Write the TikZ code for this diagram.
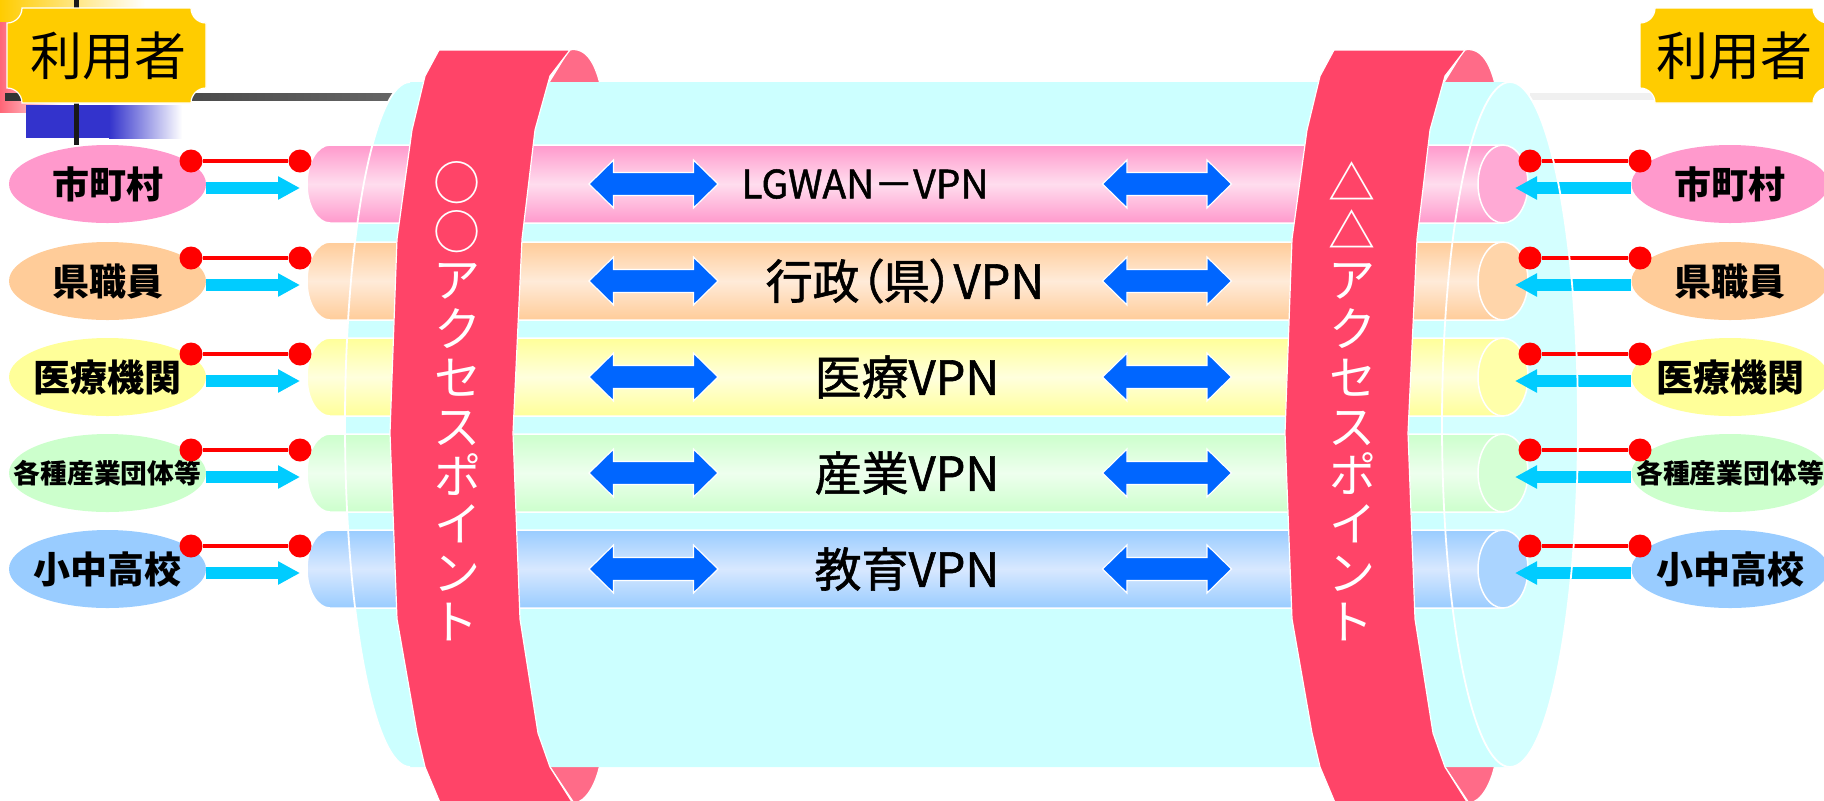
\documentclass[tikz,border=0pt]{standalone}
\usepackage{fontspec}
\setmainfont{Noto Sans CJK JP}[RawFeature=+palt]
\newfontfamily\vpnfont{Noto Sans CJK JP}[RawFeature=+palt, FakeBold=1.2]
\usepackage{graphicx}
\usetikzlibrary{calc,shapes.geometric,arrows.meta}

\definecolor{tubecyan}{HTML}{CCFFFF}
\definecolor{tubecap}{HTML}{D4FFFF}
\definecolor{apred}{HTML}{FF4468}
\definecolor{apback}{HTML}{FF6B88}
\definecolor{dotred}{HTML}{FF0000}
\definecolor{arrowcyan}{HTML}{00CCFF}
\definecolor{arrowblue}{HTML}{0066FF}
\definecolor{plaqueyellow}{HTML}{FFCC00}
\definecolor{decored}{HTML}{FF6677}
\definecolor{decoblue}{HTML}{3333CC}
\definecolor{usrpink}{HTML}{FF99CC}
\definecolor{pinkmid}{HTML}{FFDDEE}
\definecolor{pinkcap}{HTML}{FFAAD5}
\definecolor{usrorange}{HTML}{FFCC99}
\definecolor{orangemid}{HTML}{FFEBD9}
\definecolor{orangecap}{HTML}{FFD5AA}
\definecolor{usryellow}{HTML}{FFFF99}
\definecolor{yellowmid}{HTML}{FFFFDD}
\definecolor{yellowcap}{HTML}{FFFFAA}
\definecolor{usrgreen}{HTML}{CCFFCC}
\definecolor{greenmid}{HTML}{EEFFEE}
\definecolor{greencap}{HTML}{D5FFD5}
\definecolor{usrblue}{HTML}{99CCFF}
\definecolor{bluemid}{HTML}{D8E8FF}
\definecolor{bluecap}{HTML}{AAD4FF}

\tikzset{
	usrlabel/.style={ellipse, minimum width=98.5pt, minimum height=39pt, inner sep=0pt, font=\fontsize{18.5pt}{20pt}\bfseries\selectfont},
	usrtitle/.style={inner sep=0pt, font=\fontsize{26pt}{28pt}\selectfont},
	reddot/.style={circle, fill=dotred, minimum size=11.5pt, inner sep=0pt},
	redline/.style={dotred, line width=2pt},
	usrarrow/.style={arrowcyan, line width=6.25pt, -{Triangle[length=11pt, width=11pt]}},
	vpnarrow/.style={fill=arrowblue, draw=white, line width=0.6pt},
	vpnlabel/.style={inner sep=0pt, font=\vpnfont\fontsize{23.5pt}{25pt}\selectfont},
	bandtext/.style={white, align=center, inner sep=0pt, font=\fontsize{23.5pt}{24.4pt}\selectfont},
	apbody/.style={fill=apred, draw=white, line width=0.6pt},
	aptab/.style={fill=apback, draw=white, line width=0.6pt},
	plaquebox/.style={fill=plaqueyellow, draw=white, line width=0.6pt},
}

\def\plaque(#1,#2,#3,#4){\draw[plaquebox] (#1+15,#2) -- (#3-15,#2) arc[start angle=180, end angle=90, radius=15] -- (#3,#4-15) arc[start angle=270, end angle=180, radius=15] -- (#1+15,#4) arc[start angle=0, end angle=-90, radius=15] -- (#1,#2+15) arc[start angle=90, end angle=0, radius=15] -- cycle;}
\def\vpnpipe#1#2#3#4{\draw[white, line width=0.75pt, top color=#2, bottom color=#2, middle color=#3] (1503,#1-39) -- (330,#1-39) arc[start angle=270, end angle=90, x radius=23, y radius=39] -- (1503,#1+39) -- cycle;
	\draw[white, line width=0.75pt, fill=#4] (1503,#1) ellipse[x radius=25, y radius=39];}
\def\dblarrow(#1){\draw[vpnarrow, shift={(#1)}] (-64.5,0) -- (-40,-24) -- (-40,-11.5) -- (40,-11.5) -- (40,-24) -- (64.5,0) -- (40,24) -- (40,11.5) -- (-40,11.5) -- (-40,24) -- cycle;}

\begin{document}
\begin{tikzpicture}[x=0.5pt, y=-0.5pt]
	%%%%% START %%%%%
	\useasboundingbox (0,0) rectangle (1824,800);
	
	\fill[left color=plaqueyellow, right color=white] (0,0) rectangle (145,24);
	\fill[left color=decored, right color=white] (0,22) rectangle (62,112);
	\fill[decoblue] (26,105) rectangle (110,138);
	\fill[left color=decoblue, right color=white] (109,105) rectangle (182,138);
	\fill[left color=black!80, right color=black!60] (5,93) rectangle (400,100);
	\fill[black!6] (1530,93) rectangle (1655,100);
	\draw[black!90, line width=2.5pt] (76,0) -- (76,145);
	\plaque(7,8,206,103)
	\plaque(1640,8,1828,103)
	\node[usrtitle] (luser) at (108,56) {利用者};
	\node[usrtitle] (ruser) at (1734,56) {利用者};
	
	\draw[aptab] (548,84) -- (569,50) .. controls (588,46) and (596,68) .. (600,84) -- cycle;
	\draw[aptab] (548,764) -- (600,764) .. controls (596,784) and (586,802) .. (574,803) -- cycle;
	\draw[aptab, shift={(895,0)}] (548,84) -- (569,50) .. controls (588,46) and (596,68) .. (600,84) -- cycle;
	\draw[aptab, shift={(895,0)}] (548,764) -- (600,764) .. controls (596,784) and (586,802) .. (574,803) -- cycle;
	
	\fill[tubecyan] (410,82) -- (1510,82) -- (1510,767) -- (410,767) arc[start angle=90, end angle=270, x radius=65, y radius=342.5] -- cycle;
	\fill[tubecap] (1510,424.5) ellipse[x radius=68, y radius=342.5];
	
	\vpnpipe{184}{usrpink}{pinkmid}{pinkcap}
	\vpnpipe{281}{usrorange}{orangemid}{orangecap}
	\vpnpipe{377}{usryellow}{yellowmid}{yellowcap}
	\vpnpipe{473}{usrgreen}{greenmid}{greencap}
	\vpnpipe{569}{usrblue}{bluemid}{bluecap}
	\draw[white, line width=0.9pt] (410,82) arc[start angle=270, end angle=90, x radius=65, y radius=342.5];
	
	\draw[apbody] (439,50) -- (425,76) -- (412,130) -- (397,239) -- (390,433) -- (397,619) -- (417,733) -- (425,767) -- (441,805) -- (574,805) -- (550,767) -- (538,733) -- (520,619) -- (513,433) -- (522,239) -- (535,130) -- (550,76) -- (570,50) -- cycle;
	\draw[apbody, shift={(895,0)}] (439,50) -- (425,76) -- (412,130) -- (397,239) -- (390,433) -- (397,619) -- (417,733) -- (425,767) -- (441,805) -- (574,805) -- (550,767) -- (538,733) -- (520,619) -- (513,433) -- (522,239) -- (535,130) -- (550,76) -- (570,50) -- cycle;
	\node[bandtext] (lap) at (457,401) {○\\○\\ア\\ク\\セ\\ス\\ポ\\イ\\ン\\ト};
	\node[bandtext] (rap) at (1352,401) {△\\△\\ア\\ク\\セ\\ス\\ポ\\イ\\ン\\ト};
	
	\dblarrow(653.5,184) \dblarrow(1167,184)
	\dblarrow(653.5,281) \dblarrow(1167,281)
	\dblarrow(653.5,377) \dblarrow(1167,377)
	\dblarrow(653.5,473) \dblarrow(1167,473)
	\dblarrow(653.5,569) \dblarrow(1167,569)
	\node[vpnlabel, font=\vpnfont\fontsize{19.5pt}{21pt}\selectfont] (vlgwan) at (865,184) {LGWAN－VPN};
	\node[vpnlabel] (vgyosei) at (905,281) {行政（県）VPN};
	\node[vpnlabel] (viryo) at (907,377) {医療VPN};
	\node[vpnlabel] (vsangyo) at (907,473) {産業VPN};
	\node[vpnlabel] (vkyoiku) at (907,569) {教育VPN};
	
	\node[usrlabel, fill=usrpink] (lmura) at (107.5,184) {\makebox[0pt]{市町村}};
	\node[usrlabel, fill=usrpink] (rmura) at (1730,184) {\makebox[0pt]{市町村}};
	\node[usrlabel, fill=usrorange] (lken) at (107.5,281) {\makebox[0pt]{県職員}};
	\node[usrlabel, fill=usrorange] (rken) at (1730,281) {\makebox[0pt]{県職員}};
	\node[usrlabel, fill=usryellow] (liryo) at (107.5,377) {\makebox[0pt]{医療機関}};
	\node[usrlabel, fill=usryellow] (riryo) at (1730,377) {\makebox[0pt]{医療機関}};
	\node[usrlabel, fill=usrgreen, font=\fontsize{13.4pt}{15pt}\bfseries\selectfont] (lsangyo) at (107.5,473) {\makebox[0pt]{各種産業団体等}};
	\node[usrlabel, fill=usrgreen, font=\fontsize{13.4pt}{15pt}\bfseries\selectfont] (rsangyo) at (1730,473) {\makebox[0pt]{各種産業団体等}};
	\node[usrlabel, fill=usrblue] (lgakko) at (107.5,569) {\makebox[0pt]{小中高校}};
	\node[usrlabel, fill=usrblue] (rgakko) at (1730,569) {\makebox[0pt]{小中高校}};
	
	\node[reddot] (lmuraA) at (191,161) {};
	\node[reddot] (lmuraB) at (300,161) {};
	\node[reddot] (rmuraB) at (1530,161) {};
	\node[reddot] (rmuraA) at (1640,161) {};
	\node[reddot] (lkenA) at (191,258) {};
	\node[reddot] (lkenB) at (300,258) {};
	\node[reddot] (rkenB) at (1530,258) {};
	\node[reddot] (rkenA) at (1640,258) {};
	\node[reddot] (liryoA) at (191,354) {};
	\node[reddot] (liryoB) at (300,354) {};
	\node[reddot] (riryoB) at (1530,354) {};
	\node[reddot] (riryoA) at (1640,354) {};
	\node[reddot] (lsangyoA) at (191,450) {};
	\node[reddot] (lsangyoB) at (300,450) {};
	\node[reddot] (rsangyoB) at (1530,450) {};
	\node[reddot] (rsangyoA) at (1640,450) {};
	\node[reddot] (lgakkoA) at (191,546) {};
	\node[reddot] (lgakkoB) at (300,546) {};
	\node[reddot] (rgakkoB) at (1530,546) {};
	\node[reddot] (rgakkoA) at (1640,546) {};
	\draw[redline] (lmuraA) -- (lmuraB);
	\draw[redline] (rmuraA) -- (rmuraB);
	\draw[redline] (lkenA) -- (lkenB);
	\draw[redline] (rkenA) -- (rkenB);
	\draw[redline] (liryoA) -- (liryoB);
	\draw[redline] (riryoA) -- (riryoB);
	\draw[redline] (lsangyoA) -- (lsangyoB);
	\draw[redline] (rsangyoA) -- (rsangyoB);
	\draw[redline] (lgakkoA) -- (lgakkoB);
	\draw[redline] (rgakkoA) -- (rgakkoB);
	
	\coordinate (lmuraP) at (300,188);
	\coordinate (rmuraP) at (1515,188);
	\coordinate (lkenP) at (300,285);
	\coordinate (rkenP) at (1515,285);
	\coordinate (liryoP) at (300,381);
	\coordinate (riryoP) at (1515,381);
	\coordinate (lsangyoP) at (300,477);
	\coordinate (rsangyoP) at (1515,477);
	\coordinate (lgakkoP) at (300,573);
	\coordinate (rgakkoP) at (1515,573);
	\draw[usrarrow] ([yshift=-2pt]lmura.east) -- (lmuraP);
	\draw[usrarrow] ([yshift=-2pt]rmura.west) -- (rmuraP);
	\draw[usrarrow] ([yshift=-2pt]lken.east) -- (lkenP);
	\draw[usrarrow] ([yshift=-2pt]rken.west) -- (rkenP);
	\draw[usrarrow] ([yshift=-2pt]liryo.east) -- (liryoP);
	\draw[usrarrow] ([yshift=-2pt]riryo.west) -- (riryoP);
	\draw[usrarrow] ([yshift=-2pt]lsangyo.east) -- (lsangyoP);
	\draw[usrarrow] ([yshift=-2pt]rsangyo.west) -- (rsangyoP);
	\draw[usrarrow] ([yshift=-2pt]lgakko.east) -- (lgakkoP);
	\draw[usrarrow] ([yshift=-2pt]rgakko.west) -- (rgakkoP);
	
	\draw[white, line width=0.9pt] (1510,424.5) ellipse[x radius=68, y radius=342.5];
	
	%%%%% END %%%%%
\end{tikzpicture}
\end{document}
